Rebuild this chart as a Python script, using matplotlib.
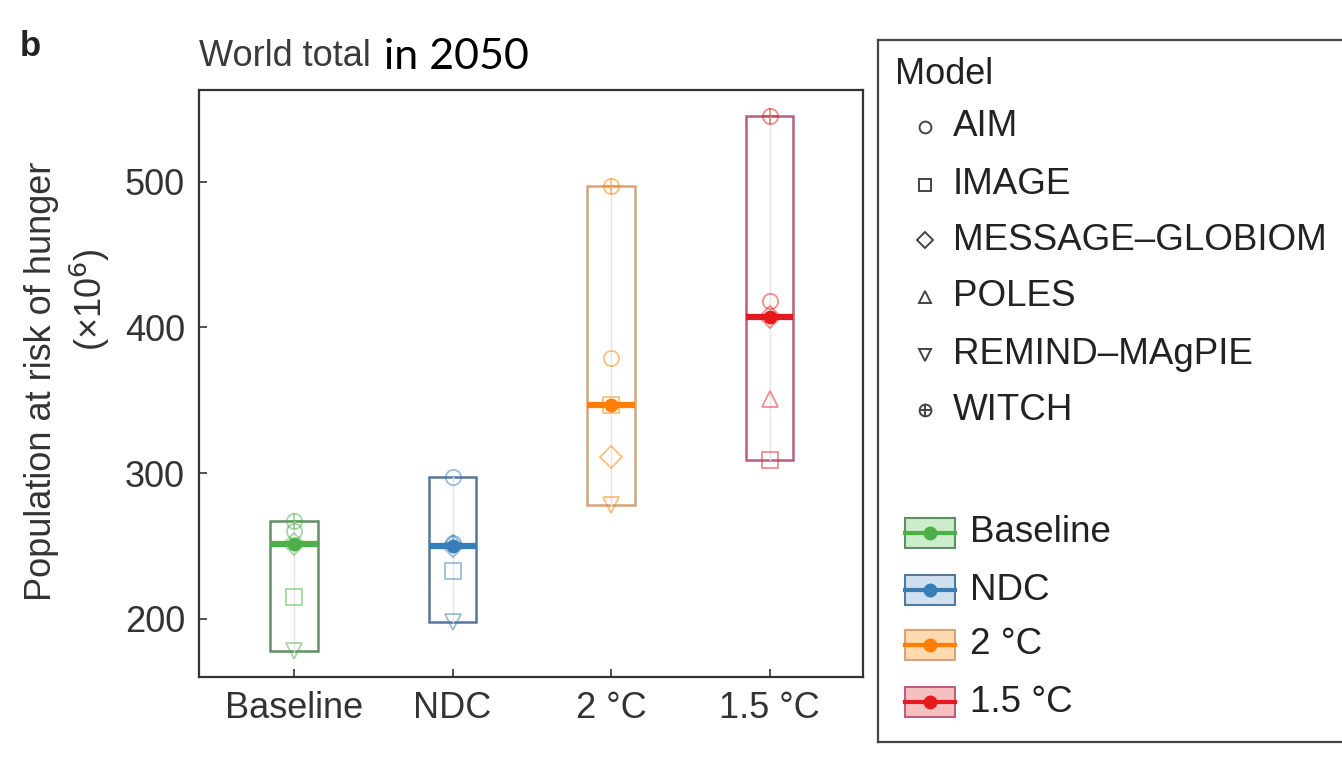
import numpy as np
import matplotlib.pyplot as plt
from matplotlib.patches import Rectangle

plt.rcParams['font.family'] = ['Liberation Sans', 'DejaVu Sans']

scenarios = ['Baseline', 'NDC', '2 °C', '1.5 °C']
models = ['AIM', 'IMAGE', 'MESSAGE–GLOBIOM', 'POLES', 'REMIND–MAgPIE', 'WITCH']
model_markers = ['o', 's', 'D', '^', 'v', 'o+']

# population at risk of hunger in 2050 (x10^6), one value per model, None = no run
baseline = [260, 215, 251, None, 178, 267]
ndc = [297, 233, 250, None, 198, 252]
two_deg = [379, 347, 311, None, 278, 497]
one_five = [418, 309, 407, 351, None, 545]
values = [baseline, ndc, two_deg, one_five]

colors = ['#4daf4a', '#377eb8', '#ff7f00', '#e41a1c']
edges = ['#5f8f64', '#55789a', '#d6a47c', '#b8607e']
lights = ['#cdeccb', '#cfe0f0', '#ffd9b0', '#f7c0c0']

fig = plt.figure(figsize=(13.42, 7.62), dpi=100)
ax = fig.add_axes([199 / 1342, 85 / 762, 664 / 1342, 587 / 762])

w = 0.3
for i, vals in enumerate(values):
    v = np.array([x for x in vals if x is not None], dtype=float)
    lo, hi, med = v.min(), v.max(), np.median(v)
    ax.add_patch(Rectangle((i - w / 2, lo), w, hi - lo, fc='white',
                           ec=edges[i], lw=1.8, zorder=2))
    ax.plot([i, i], [lo, hi], color='#e4e4e4', lw=1, zorder=2.5)
    for m, val in zip(model_markers, vals):
        if val is None:
            continue
        ax.plot(i, val, m[0], ms=11, mfc='none', mec=colors[i], mew=1.3,
                alpha=0.5, zorder=3)
        if len(m) > 1:
            ax.plot(i, val, '+', ms=11, mec=colors[i], mew=1.3, alpha=0.5,
                    zorder=3)
    ax.plot([i - w / 2, i + w / 2], [med, med], color=colors[i], lw=4.5,
            solid_capstyle='butt', zorder=4)
    ax.plot(i, med, 'o', ms=9, color=colors[i], zorder=5)

ax.set_xlim(-0.6, 3.59)
ax.set_ylim(160, 563)
ax.set_xticks(range(4))
ax.set_xticklabels(scenarios)
ax.set_yticks([200, 300, 400, 500])
ax.tick_params(direction='in', length=6, width=1.2, labelsize=26,
               colors='#333333', pad=10)
for s in ax.spines.values():
    s.set_linewidth(1.6)
    s.set_color('#333333')

fig.text(20 / 1342, 1 - 47 / 762, 'b', fontsize=25, fontweight='bold',
         va='center', color='#222222')
fig.text(199 / 1342, 1 - 57 / 762, 'World total', fontsize=26,
         color='#3a3a3a', va='center')
fig.text(384 / 1342, 1 - 57 / 762, 'in 2050', fontsize=31, family='Lato',
         color='black', va='center')
fig.text(42 / 1342, 1 - 381 / 762, 'Population at risk of hunger',
         rotation=90, fontsize=26, color='#333333', ha='center', va='center')
fig.text(90 / 1342, 1 - 300 / 762, '(×10$^6$)', rotation=90, fontsize=26,
         color='#333333', ha='center', va='center')

# legend box, drawn in pixel coordinates
lw_ = 1342 - 878 + 20
lg = fig.add_axes([878 / 1342, 20 / 762, lw_ / 1342, 702 / 762])
lg.set_xlim(878, 878 + lw_)
lg.set_ylim(742, 40)
lg.set_xticks([])
lg.set_yticks([])
for s in lg.spines.values():
    s.set_linewidth(1.6)
    s.set_color('#444444')

lg.text(895, 75, 'Model', fontsize=26, va='center', color='#222222')
model_y = [127, 185, 240, 297, 355, 410]
for m, name, y in zip(model_markers, models, model_y):
    lg.plot(925, y, m[0], ms=8.5, mfc='none', mec='#444444', mew=1.4)
    if len(m) > 1:
        lg.plot(925, y, '+', ms=8.5, mec='#444444', mew=1.4)
    lg.text(953, y, name, fontsize=26.5, va='center', color='#222222')

scen_y = [533, 590, 645, 702]
for i, (name, y) in enumerate(zip(scenarios, scen_y)):
    lg.add_patch(Rectangle((905, y - 15), 50, 30, fc=lights[i], ec=edges[i],
                           lw=1.5))
    lg.plot([905, 955], [y, y], color=colors[i], lw=3)
    lg.plot(930, y, 'o', ms=9, color=colors[i])
    lg.text(970, y, name, fontsize=26.5, va='center', color='#222222')

fig.savefig('out.png', dpi=100)
